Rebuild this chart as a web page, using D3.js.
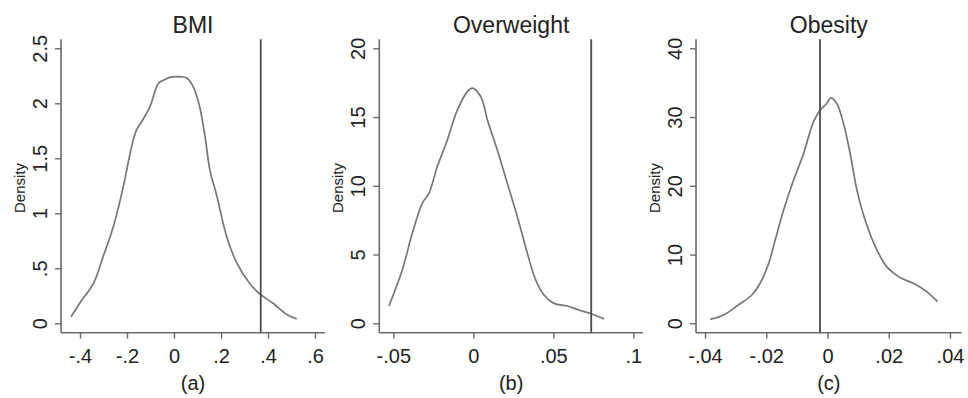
<!DOCTYPE html>
<html><head><meta charset="utf-8">
<script src="https://cdn.jsdelivr.net/npm/d3@7"></script>
<style>
html,body{margin:0;padding:0;background:#fff;}
svg text{font-family:"Liberation Sans",Arial,sans-serif;fill:#222;}
</style></head>
<body><svg id="c" width="968" height="398"></svg>
<script>
// ---- data ----
const titles = ["BMI", "Overweight", "Obesity"];
const captions = ["(a)", "(b)", "(c)"];
const bmiX = [-0.438,-0.393,-0.343,-0.301,-0.258,-0.216,-0.18,-0.159,-0.130,-0.102,-0.067,-0.045,-0.01,0.033,0.054,0.082,0.108,0.132,0.153,0.182,0.224,0.267,0.323,0.369,0.423,0.48,0.522];
const bmiY = [0.06,0.21,0.36,0.61,0.88,1.24,1.61,1.76,1.86,1.97,2.18,2.21,2.24,2.24,2.23,2.15,1.98,1.70,1.39,1.16,0.79,0.55,0.36,0.26,0.18,0.08,0.04];
const owX = [-0.0527,-0.0444,-0.0381,-0.0319,-0.0277,-0.0225,-0.0163,-0.010,-0.0037,-0.0006,0.0025,0.0056,0.0088,0.015,0.0212,0.0275,0.0338,0.039,0.0442,0.0504,0.0588,0.066,0.074,0.0817];
const owY = [1.26,3.88,6.55,8.73,9.45,11.4,13.3,15.5,16.85,17.1,16.85,16.24,14.8,12.6,10.2,7.76,5.09,3.15,2.06,1.45,1.26,0.97,0.68,0.32];
const obX = [-0.0383,-0.0339,-0.0296,-0.0247,-0.022,-0.0192,-0.0171,-0.0143,-0.0111,-0.0078,-0.0046,-0.0024,-0.0002,0.0011,0.003,0.0052,0.0074,0.0096,0.0123,0.0161,0.0193,0.0232,0.0291,0.0324,0.0359];
const obY = [0.58,1.21,2.52,4.12,5.82,8.73,12.1,16.5,20.8,24.7,29.3,31.0,32.0,32.8,32.0,29.1,24.7,19.4,15.0,10.7,8.24,6.79,5.58,4.6,3.15];
const xTicks = [[-0.4,-0.2,0,0.2,0.4,0.6],[-0.05,0,0.05,0.1],[-0.04,-0.02,0,0.02,0.04]];
const yTicks = [[0,0.5,1,1.5,2,2.5],[0,5,10,15,20],[0,10,20,30,40]];
const vLines = [0.369, 0.0737, -0.00245];
const seriesX = [bmiX, owX, obX];
const seriesY = [bmiY, owY, obY];

// ---- layout (pixels) ----
const layout = [
  {axisX:61,  xEnd:325,   tx0:80,  tx1:315},
  {axisX:379.3, xEnd:643, tx0:393.3, tx1:633.3},
  {axisX:696, xEnd:961.7, tx0:705, tx1:950}
];
const yBase = 332.7, yTop = 39.3, yT0 = 323.3, yT1 = 48.3;
const axisCol = "#6a6a6a", curveCol = "#777", vCol = "#4a4a4a";

const fmt = v => {
  if (v === 0) return "0";
  let s = String(+v.toFixed(4));
  return s.replace(/^(-?)0\./, "$1.");
};

const svg = d3.select("#c");

titles.forEach((t, i) => {
  const L = layout[i];
  const xt = xTicks[i], yt = yTicks[i];
  const x = d3.scaleLinear().domain([xt[0], xt[xt.length-1]]).range([L.tx0, L.tx1]);
  const y = d3.scaleLinear().domain([yt[0], yt[yt.length-1]]).range([yT0, yT1]);
  const g = svg.append("g");

  // axes lines
  g.append("line").attr("x1", L.axisX).attr("x2", L.axisX).attr("y1", yTop).attr("y2", yBase)
    .attr("stroke", axisCol).attr("stroke-width", 1.6);
  g.append("line").attr("x1", L.axisX).attr("x2", L.xEnd).attr("y1", yBase).attr("y2", yBase)
    .attr("stroke", axisCol).attr("stroke-width", 1.6);

  // x axis ticks
  const xa = g.append("g").attr("transform", `translate(0,${yBase})`)
    .call(d3.axisBottom(x).tickValues(xt).tickSize(6).tickSizeOuter(0).tickFormat(fmt));
  xa.select(".domain").remove();
  xa.selectAll(".tick line").attr("stroke", axisCol).attr("stroke-width", 1.4);
  xa.selectAll(".tick text").attr("font-size", 20).attr("dy", "0.71em").attr("y", 16)
    .style("font-family", '"Liberation Sans",Arial,sans-serif').attr("fill", "#222");

  // y axis ticks
  const ya = g.append("g").attr("transform", `translate(${L.axisX},0)`)
    .call(d3.axisLeft(y).tickValues(yt).tickSize(6).tickSizeOuter(0).tickFormat(fmt));
  ya.select(".domain").remove();
  ya.selectAll(".tick line").attr("stroke", axisCol).attr("stroke-width", 1.4);
  ya.selectAll(".tick text").remove();
  ya.selectAll(".tick").append("text")
    .attr("transform", "translate(-14,0) rotate(-90)")
    .attr("text-anchor", "middle").attr("font-size", 20).attr("fill", "#222")
    .text(d => fmt(d));

  // density label
  g.append("text").attr("transform", `translate(${L.axisX - 36},188) rotate(-90)`)
    .attr("text-anchor", "middle").attr("font-size", 15).text("Density");

  // title and caption
  const cx = (L.axisX + L.xEnd) / 2;
  g.append("text").attr("x", cx).attr("y", 33).attr("text-anchor", "middle")
    .attr("font-size", 23).text(t);
  g.append("text").attr("x", cx).attr("y", 390).attr("text-anchor", "middle")
    .attr("font-size", 20).text(captions[i]);

  // curve
  const pts = seriesX[i].map((d, k) => [d, seriesY[i][k]]);
  g.append("path").datum(pts)
    .attr("d", d3.line().x(d => x(d[0])).y(d => y(d[1])).curve(d3.curveCatmullRom.alpha(0.5)))
    .attr("fill", "none").attr("stroke", curveCol).attr("stroke-width", 1.7);

  // vertical line
  g.append("line").attr("x1", x(vLines[i])).attr("x2", x(vLines[i]))
    .attr("y1", yTop).attr("y2", yBase).attr("stroke", vCol).attr("stroke-width", 1.8);
});
</script></body></html>
